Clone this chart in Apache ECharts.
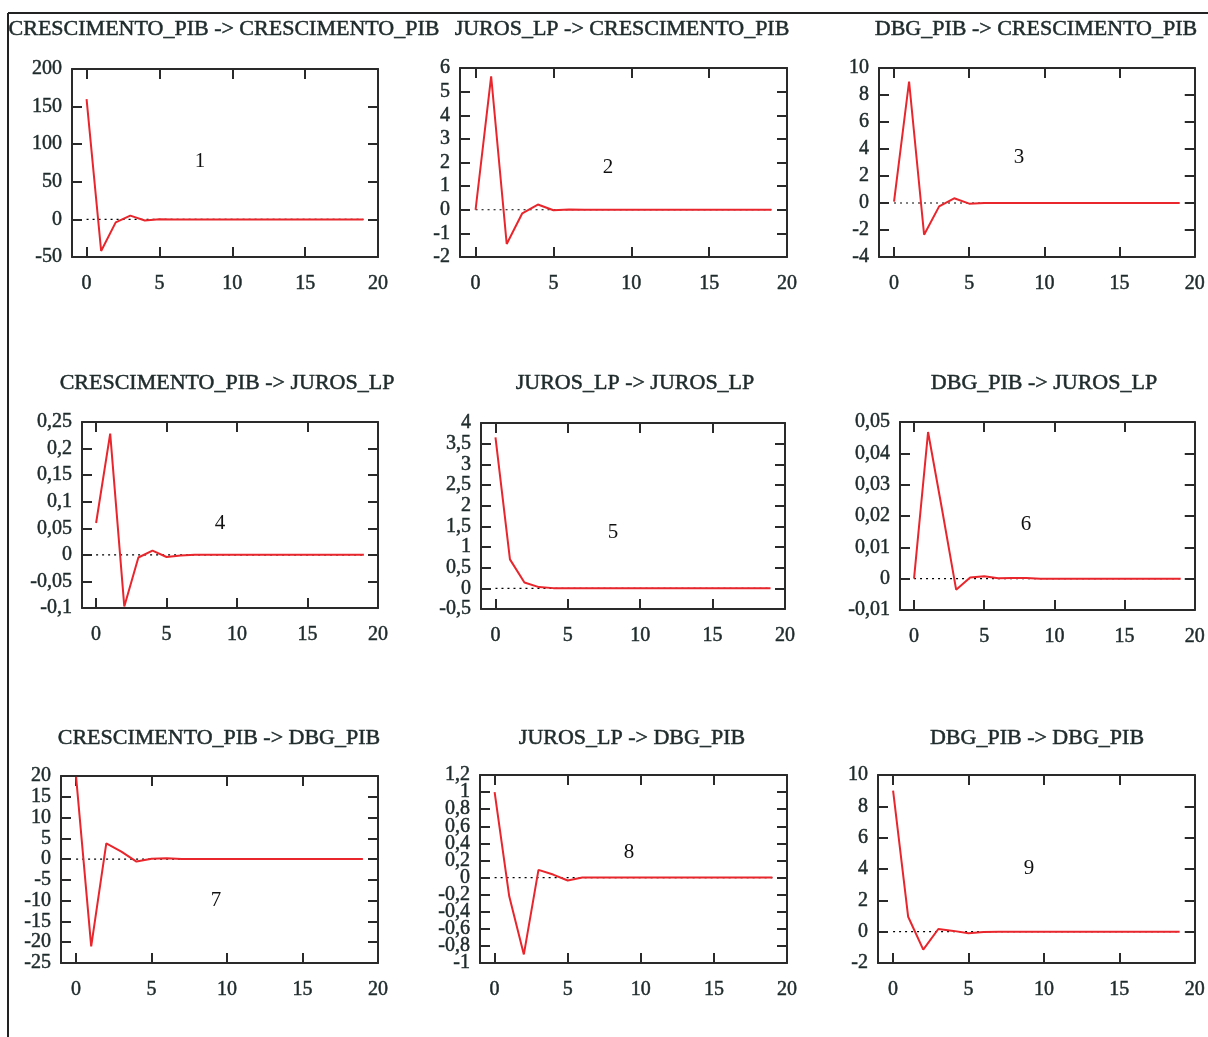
<!DOCTYPE html>
<html>
<head>
<meta charset="utf-8">
<script src="https://cdn.jsdelivr.net/npm/echarts@6/dist/echarts.min.js"></script>
<style>
html,body{margin:0;padding:0;background:#fff;}
#chart{width:1208px;height:1037px;}
</style>
</head>
<body>
<div id="chart"></div>
<script>
// ---- data ----
const periods = [0,1,2,3,4,5,6,7,8,9,10,11,12,13,14,15,16,17,18,19];
const xTicks = [0,5,10,15,20];
const titles = [
  "CRESCIMENTO_PIB -> CRESCIMENTO_PIB",
  "JUROS_LP -> CRESCIMENTO_PIB",
  "DBG_PIB -> CRESCIMENTO_PIB",
  "CRESCIMENTO_PIB -> JUROS_LP",
  "JUROS_LP -> JUROS_LP",
  "DBG_PIB -> JUROS_LP",
  "CRESCIMENTO_PIB -> DBG_PIB",
  "JUROS_LP -> DBG_PIB",
  "DBG_PIB -> DBG_PIB"
];
const panelNumbers = ["1","2","3","4","5","6","7","8","9"];
const resp1 = [160, -42, -4, 5, -1.5, 0.3, 0, 0, 0, 0, 0, 0, 0, 0, 0, 0, 0, 0, 0, 0];
const resp2 = [0, 5.65, -1.45, -0.15, 0.22, -0.02, 0.01, 0, 0, 0, 0, 0, 0, 0, 0, 0, 0, 0, 0, 0];
const resp3 = [0.1, 9.0, -2.35, -0.25, 0.35, -0.05, 0, 0, 0, 0, 0, 0, 0, 0, 0, 0, 0, 0, 0, 0];
const resp4 = [0.06, 0.228, -0.097, -0.005, 0.008, -0.004, -0.001, 0, 0, 0, 0, 0, 0, 0, 0, 0, 0, 0, 0, 0];
const resp5 = [3.65, 0.7, 0.14, 0.03, 0.005, 0, 0, 0, 0, 0, 0, 0, 0, 0, 0, 0, 0, 0, 0, 0];
const resp6 = [0, 0.0468, 0.022, -0.0035, 0.0004, 0.0008, 0.0001, 0.0002, 0.0002, 0, 0, 0, 0, 0, 0, 0, 0, 0, 0, 0];
const resp7 = [19.8, -21, 3.8, 1.8, -0.6, 0.1, 0.2, 0, 0, 0, 0, 0, 0, 0, 0, 0, 0, 0, 0, 0];
const resp8 = [1.0, -0.22, -0.9, 0.09, 0.035, -0.035, 0, 0, 0, 0, 0, 0, 0, 0, 0, 0, 0, 0, 0, 0];
const resp9 = [9.0, 0.95, -1.15, 0.17, 0.05, -0.1, -0.02, 0, 0, 0, 0, 0, 0, 0, 0, 0, 0, 0, 0, 0];
const responses = [resp1, resp2, resp3, resp4, resp5, resp6, resp7, resp8, resp9];
// y tick values per panel
const yTicks1 = [-50, 0, 50, 100, 150, 200];
const yTicks2 = [-2, -1, 0, 1, 2, 3, 4, 5, 6];
const yTicks3 = [-4, -2, 0, 2, 4, 6, 8, 10];
const yTicks4 = [-0.1, -0.05, 0, 0.05, 0.1, 0.15, 0.2, 0.25];
const yTicks5 = [-0.5, 0, 0.5, 1, 1.5, 2, 2.5, 3, 3.5, 4];
const yTicks6 = [-0.01, 0, 0.01, 0.02, 0.03, 0.04, 0.05];
const yTicks7 = [-25, -20, -15, -10, -5, 0, 5, 10, 15, 20];
const yTicks8 = [-1, -0.8, -0.6, -0.4, -0.2, 0, 0.2, 0.4, 0.6, 0.8, 1, 1.2];
const yTicks9 = [-2, 0, 2, 4, 6, 8, 10];
const yTickSets = [yTicks1, yTicks2, yTicks3, yTicks4, yTicks5, yTicks6, yTicks7, yTicks8, yTicks9];

// ---- layout (positions / styles) ----
const boxes = [
  {l:72, t:69, w:306, h:188},
  {l:460, t:68, w:327, h:189},
  {l:879, t:68, w:317, h:189},
  {l:82, t:422, w:296, h:186},
  {l:481, t:423, w:304, h:186},
  {l:900, t:422, w:295, h:188},
  {l:61, t:776, w:317, h:187},
  {l:480, t:775, w:307, h:188},
  {l:878, t:775, w:319, h:188}
];
const titlePos = [[224,29],[622,29],[1036,29],[227,383],[635,383],[1044,383],[219,738],[632,738],[1037,738]];
const numberPos = [[200,161],[608,167],[1019,157],[220,523],[613,532],[1026,524],[216,900],[629,852],[1029,868]];

const FONT = "Liberation Serif";
const TXT = "#1f2b2b";
const AX = "#2a2a2a";
const RED = "#e8262c";

function fmt(v){
  let s = String(parseFloat(Number(v).toFixed(6)));
  return s.replace('.', ',');
}

const grids = [], xAxes = [], yAxes = [], series = [], graphics = [];
boxes.forEach((b, k) => {
  const yt = yTickSets[k];
  const ytEven = yt.filter((_, i) => i % 2 === 0);
  const ytOdd = yt.filter((_, i) => i % 2 === 1);
  grids.push({left:b.l, top:b.t, width:b.w, height:b.h, containLabel:false});
  const common = {
    type:'value', gridIndex:k, min:-1, max:20,
    splitLine:{show:false},
    axisLine:{show:true, onZero:false, lineStyle:{color:AX, width:2}},
    axisTick:{show:true, inside:true, length:10, customValues:xTicks, lineStyle:{color:AX, width:2}}
  };
  xAxes.push(Object.assign({}, common, {
    position:'bottom',
    axisLabel:{show:true, customValues:xTicks, margin:17, fontFamily:FONT, fontSize:20, color:TXT,
      textBorderColor:TXT, textBorderWidth:0.5}
  }));
  xAxes.push(Object.assign({}, common, {
    position:'top',
    axisLabel:{show:false}
  }));
  const yc = {
    type:'value', gridIndex:k, min:yt[0], max:yt[yt.length-1],
    splitLine:{show:false},
    axisLine:{show:true, onZero:false, lineStyle:{color:AX, width:2}},
    axisTick:{show:true, inside:true, length:10, customValues:yt, lineStyle:{color:AX, width:2}}
  };
  const lab = {show:true, margin:10, fontFamily:FONT, fontSize:20, color:TXT, formatter:fmt,
      hideOverlap:false, showMinLabel:true, showMaxLabel:true,
      textBorderColor:TXT, textBorderWidth:0.5};
  yAxes.push(Object.assign({}, yc, {
    position:'left',
    axisLabel:Object.assign({}, lab, {customValues:ytEven})
  }));
  yAxes.push(Object.assign({}, yc, {
    position:'right',
    axisLabel:{show:false}
  }));
  yAxes.push(Object.assign({}, yc, {
    position:'left',
    axisLine:{show:false, onZero:false},
    axisTick:{show:false},
    axisLabel:Object.assign({}, lab, {customValues:ytOdd})
  }));
  series.push({
    type:'line', xAxisIndex:2*k, yAxisIndex:3*k, symbol:'none', silent:true, z:1,
    data:[[periods[0],0],[periods[periods.length-1],0]],
    lineStyle:{color:'#000', width:1.2, type:[2,4]}
  });
  series.push({
    type:'line', xAxisIndex:2*k, yAxisIndex:3*k, symbol:'none', z:3,
    data: responses[k].map((v,i)=>[periods[i], v]),
    lineStyle:{color:RED, width:2}
  });
  graphics.push({
    type:'text', x:titlePos[k][0], y:titlePos[k][1],
    style:{text:titles[k], font:'22px "' + FONT + '"', fill:TXT, stroke:TXT, lineWidth:0.5,
      textAlign:'center', textVerticalAlign:'middle'}
  });
  graphics.push({
    type:'text', x:numberPos[k][0], y:numberPos[k][1],
    style:{text:panelNumbers[k], font:'21px "' + FONT + '"', fill:'#111',
      textAlign:'center', textVerticalAlign:'middle'}
  });
});
graphics.push({type:'line', shape:{x1:8, y1:13, x2:1208, y2:13}, style:{stroke:'#222', lineWidth:2}});
graphics.push({type:'line', shape:{x1:8, y1:13, x2:8, y2:1037}, style:{stroke:'#222', lineWidth:2}});

const chart = echarts.init(document.getElementById('chart'), null, {renderer:'canvas'});
chart.setOption({
  backgroundColor:'#fff',
  animation:false,
  grid:grids, xAxis:xAxes, yAxis:yAxes, series:series, graphic:graphics
});
</script>
</body>
</html>
